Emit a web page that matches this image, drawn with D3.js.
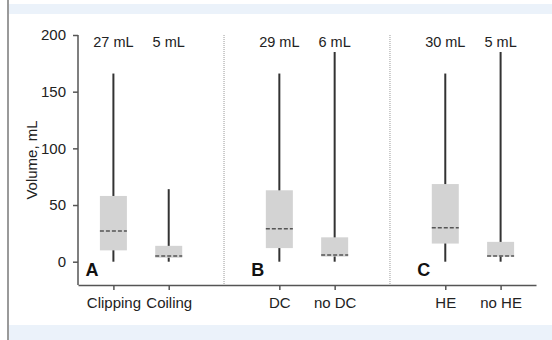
<!DOCTYPE html>
<html>
<head>
<meta charset="utf-8">
<script src="https://d3js.org/d3.v7.min.js"></script>
<style>
  body { margin: 0; background: #fff; }
  svg text { font-family: "Liberation Sans", Arial, Helvetica, sans-serif; fill: #222; }
</style>
</head>
<body>
<div id="chart"></div>
<script>
// frame constants
const FRAME_WIDTH = 552;
const FRAME_HEIGHT = 340;
const MARGINS = {left: 78, right: 16, top: 35, bottom: 55};

// data
const categories = ["Clipping", "Coiling", "gap1", "DC", "no DC", "gap2", "HE", "no HE"];
const groups = ["Clipping", "Coiling", "DC", "no DC", "HE", "no HE"];
const whiskerLow = [0, 0, 0, 0, 0, 0];
const q1 = [10, 3.5, 12, 4.5, 16, 4.5];
const medians = [27, 5, 29, 6, 30, 5];
const q3 = [58, 14, 63, 21.5, 68.5, 17.5];
const whiskerHigh = [166, 64, 166, 185, 166, 185];
const medianLabels = ["27 mL", "5 mL", "29 mL", "6 mL", "30 mL", "5 mL"];
const separators = ["gap1", "gap2"];
const panelLetters = ["A", "B", "C"];
const panelAnchors = ["Clipping", "DC", "HE"];
const yTicks = [0, 50, 100, 150, 200];

const data = groups.map((g, i) => ({
  name: g, lo: whiskerLow[i], q1: q1[i], med: medians[i], q3: q3[i], hi: whiskerHigh[i], label: medianLabels[i]
}));

const FRAME = d3.select("#chart")
  .append("svg")
  .attr("width", FRAME_WIDTH)
  .attr("height", FRAME_HEIGHT);

// page decoration: blue bands and left rule
FRAME.append("rect").attr("x", 9).attr("y", 4).attr("width", FRAME_WIDTH - 9).attr("height", 10).attr("fill", "#ebf2fa");
FRAME.append("rect").attr("x", 9).attr("y", 325).attr("width", FRAME_WIDTH - 9).attr("height", 15).attr("fill", "#ebf2fa");
FRAME.append("line").attr("x1", 8).attr("x2", 8).attr("y1", 0).attr("y2", FRAME_HEIGHT)
  .style("stroke", "#9a9a9a").style("stroke-width", 2);

const AXIS_BOTTOM = FRAME_HEIGHT - MARGINS.bottom;

const X_SCALE = d3.scalePoint()
  .domain(categories)
  .range([MARGINS.left, FRAME_WIDTH - MARGINS.right])
  .padding(0.64);

const Y_SCALE = d3.scaleLinear()
  .domain([0, 200])
  .range([261.7, MARGINS.top]);

const BOX_W = 27;

// dotted separators
FRAME.selectAll(".sep")
  .data(separators)
  .enter()
  .append("line")
    .attr("x1", d => X_SCALE(d))
    .attr("x2", d => X_SCALE(d))
    .attr("y1", Y_SCALE(200))
    .attr("y2", AXIS_BOTTOM)
    .style("stroke", "#999")
    .style("stroke-width", 1)
    .style("stroke-dasharray", "1,1");

// y axis
const yAxis = FRAME.append("g")
  .attr("transform", "translate(" + MARGINS.left + ",0)")
  .call(d3.axisLeft(Y_SCALE).tickValues(yTicks).tickSize(5).tickPadding(7).tickSizeOuter(0));
yAxis.select(".domain").attr("d", "M0," + Y_SCALE(200) + "V" + AXIS_BOTTOM);

// x axis
const xAxis = FRAME.append("g")
  .attr("transform", "translate(0," + AXIS_BOTTOM + ")")
  .call(d3.axisBottom(X_SCALE).tickValues(groups).tickSize(5).tickPadding(7).tickSizeOuter(0));

[yAxis, xAxis].forEach(ax => {
  ax.selectAll(".domain").style("stroke", "#555").style("stroke-width", 1.5);
  ax.selectAll(".tick line").style("stroke", "#555").style("stroke-width", 1.5);
  ax.selectAll(".tick text").style("font-size", "15px").style("fill", "#222")
    .style("font-family", "'Liberation Sans', Arial, sans-serif");
});

// y axis title
FRAME.append("text")
  .attr("transform", "translate(37," + ((Y_SCALE(200) + AXIS_BOTTOM) / 2) + ") rotate(-90)")
  .attr("text-anchor", "middle")
  .style("font-size", "15px")
  .text("Volume, mL");

// whiskers
FRAME.selectAll(".whisker")
  .data(data)
  .enter()
  .append("line")
    .attr("x1", d => X_SCALE(d.name))
    .attr("x2", d => X_SCALE(d.name))
    .attr("y1", d => Y_SCALE(d.lo))
    .attr("y2", d => Y_SCALE(d.hi))
    .style("stroke", "#333")
    .style("stroke-width", 2);

// boxes
FRAME.selectAll(".box")
  .data(data)
  .enter()
  .append("rect")
    .attr("x", d => X_SCALE(d.name) - BOX_W / 2)
    .attr("y", d => Y_SCALE(d.q3))
    .attr("width", BOX_W)
    .attr("height", d => Y_SCALE(d.q1) - Y_SCALE(d.q3))
    .attr("fill", "#d3d3d3");

// medians
FRAME.selectAll(".median")
  .data(data)
  .enter()
  .append("line")
    .attr("x1", d => X_SCALE(d.name) - BOX_W / 2)
    .attr("x2", d => X_SCALE(d.name) + BOX_W / 2)
    .attr("y1", d => Y_SCALE(d.med))
    .attr("y2", d => Y_SCALE(d.med))
    .style("stroke", "#555")
    .style("stroke-width", 1.5)
    .style("stroke-dasharray", "4,2");

// median labels on top
FRAME.selectAll(".mlabel")
  .data(data)
  .enter()
  .append("text")
    .attr("x", d => X_SCALE(d.name))
    .attr("y", 47)
    .attr("text-anchor", "middle")
    .style("font-size", "14.5px")
    .text(d => d.label);

// panel letters
FRAME.selectAll(".letter")
  .data(panelLetters)
  .enter()
  .append("text")
    .attr("x", (d, i) => X_SCALE(panelAnchors[i]) - 28)
    .attr("y", 276)
    .style("font-size", "18px")
    .style("font-weight", "bold")
    .style("fill", "#111")
    .text(d => d);
</script>
</body>
</html>
